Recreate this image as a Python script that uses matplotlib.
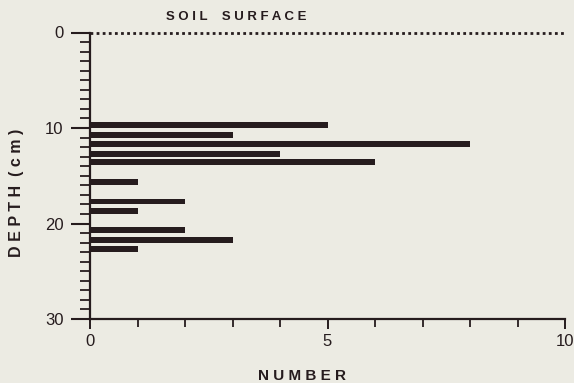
import matplotlib
matplotlib.use("Agg")
import matplotlib.pyplot as plt
from matplotlib.ticker import MultipleLocator

depth_cm = [9.7, 10.7, 11.7, 12.7, 13.6, 15.7, 17.7, 18.7, 20.7, 21.7, 22.7]
number = [5, 3, 8, 4, 6, 1, 2, 1, 2, 3, 1]
y_ticks = [0, 10, 20, 30]
x_ticks = [0, 5, 10]

bg = "#ecebe3"
ink = "#261c1e"
plt.rcParams['font.family'] = ['Liberation Sans', 'DejaVu Sans']

fig = plt.figure(figsize=(5.74, 3.83), dpi=100, facecolor=bg)
ax = fig.add_axes([90/574, 1 - 319/383, 475/574, (319 - 32.5)/383])
ax.set_facecolor(bg)

ax.barh(depth_cm, number, height=0.62, color=ink, align='center')
ax.axhline(0, color=ink, linestyle=(0, (1, 1.2)), linewidth=2.0, clip_on=False)

ax.set_xlim(0, 10)
ax.set_ylim(30, 0)
ax.set_yticks(y_ticks)
ax.set_xticks(x_ticks)
ax.yaxis.set_minor_locator(MultipleLocator(1))
ax.xaxis.set_minor_locator(MultipleLocator(1))

for s in ['top', 'right']:
    ax.spines[s].set_visible(False)
for s in ['left', 'bottom']:
    ax.spines[s].set_color(ink)
    ax.spines[s].set_linewidth(1.6)

ax.tick_params(axis='y', which='major', length=14, width=1.5, color=ink,
               labelsize=12, labelcolor=ink, pad=5)
ax.tick_params(axis='y', which='minor', length=7, width=1.3, color=ink)
ax.tick_params(axis='x', which='major', length=7, width=1.4, color=ink,
               labelsize=12, labelcolor=ink, pad=4)
ax.tick_params(axis='x', which='minor', length=6, width=1.3, color=ink)

ax.set_xlabel("N U M B E R", fontsize=11, fontweight='bold', color=ink)
ax.xaxis.set_label_coords(0.447, -0.175)
ax.set_ylabel("D E P T H  ( c m )", fontsize=11.5, fontweight='bold', color=ink)
ax.yaxis.set_label_coords(-0.138, 0.44)

ax.text(0.307, 1.055, "S O I L    S U R F A C E", transform=ax.transAxes,
        fontsize=9.5, fontweight='bold', color=ink, ha='center', va='center')

fig.savefig("out.png", dpi=100, facecolor=bg)
